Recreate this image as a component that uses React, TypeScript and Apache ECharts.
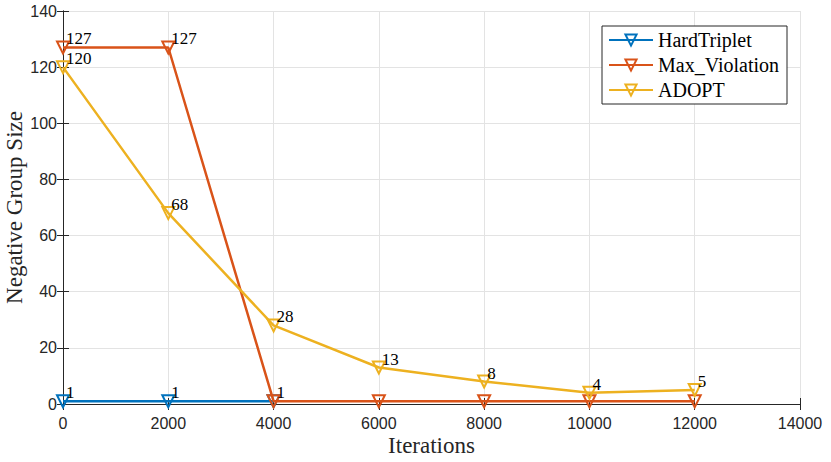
import React, { useEffect, useRef } from "react";
import * as echarts from "echarts";

const iterations = [0, 2000, 4000, 6000, 8000, 10000, 12000];
const hardTriplet = [1, 1, 1];
const maxViolation = [127, 127, 1, 1, 1, 1, 1];
const adopt = [120, 68, 28, 13, 8, 4, 5];
const maxViolationLabelCount = 2;
const xTicks = { min: 0, max: 14000, interval: 2000 };
const yTicks = { min: 0, max: 140, interval: 20 };

const SERIF = "Liberation Serif";
const SANS = "Liberation Sans";
const AXIS = "#262626";

function lineSeries(name: string, color: string, values: number[], z: number) {
  return {
    name,
    type: "line",
    z,
    data: values.map((v, i) => [iterations[i], v]),
    symbol: "triangle",
    symbolRotate: 180,
    symbolSize: 12,
    showAllSymbol: true,
    lineStyle: { color, width: 2.5 },
    itemStyle: { color: "rgba(255,255,255,0)", borderColor: color, borderWidth: 2 },
    emphasis: { disabled: true },
    label: { show: false },
  };
}

function labelSeries(name: string, values: number[], count: number) {
  return {
    name: name + "_labels",
    type: "custom",
    z: 10,
    silent: true,
    encode: { x: 0, y: 1 },
    data: values.slice(0, count).map((v, i) => [iterations[i], v]),
    renderItem: (params: any, api: any) => {
      const xv = api.value(0);
      const yv = api.value(1);
      const pt = api.coord([xv, yv]);
      return {
        type: "text",
        x: pt[0] + 3,
        y: pt[1],
        style: {
          text: String(yv),
          fontFamily: SERIF,
          fontSize: 17,
          fill: "#000",
          align: "left",
          verticalAlign: "bottom",
        },
      };
    },
  };
}

export default function App() {
  const ref = useRef<HTMLDivElement>(null);
  useEffect(() => {
    if (!ref.current) return;
    const chart = echarts.init(ref.current, null, { renderer: "svg" });
    const axisCommon = {
      type: "value",
      axisLine: { show: true, lineStyle: { color: AXIS, width: 1 } },
      axisTick: { show: true, inside: true, length: 6, lineStyle: { color: AXIS } },
      splitLine: { show: false },
    };
    chart.setOption({
      animation: false,
      backgroundColor: "#fff",
      grid: {
        left: 63,
        right: 31,
        top: 11,
        bottom: 58,
        containLabel: false,
        outerBoundsMode: "none",
      },
      legend: {
        orient: "vertical",
        left: 602,
        top: 26,
        padding: [4, 8, 4, 6],
        itemWidth: 44,
        itemHeight: 14,
        itemGap: 5,
        borderColor: AXIS,
        borderWidth: 1,
        backgroundColor: "#fff",
        textStyle: { fontFamily: SERIF, fontSize: 20, color: "#000" },
        data: ["HardTriplet", "Max_Violation", "ADOPT"],
      },
      xAxis: [
        {
          ...axisCommon,
          ...xTicks,
          position: "bottom",
          name: "Iterations",
          nameLocation: "middle",
          nameGap: 30,
          nameMoveOverlap: false,
          nameTextStyle: { fontFamily: SERIF, fontSize: 23, color: AXIS },
          axisLabel: {
            fontFamily: SANS,
            fontSize: 16,
            color: AXIS,
            margin: 11,
            formatter: (v: number) => String(v),
          },
          splitLine: { show: true, lineStyle: { color: "#e3e3e3", width: 1 } },
        },
        {
          ...axisCommon,
          ...xTicks,
          position: "top",
          axisLabel: { show: false },
        },
      ],
      yAxis: [
        {
          ...axisCommon,
          ...yTicks,
          position: "left",
          name: "Negative Group Size",
          nameLocation: "middle",
          nameGap: 37,
          nameMoveOverlap: false,
          nameTextStyle: { fontFamily: SERIF, fontSize: 23, color: AXIS },
          axisLabel: {
            fontFamily: SANS,
            fontSize: 16,
            color: AXIS,
            margin: 6,
            formatter: (v: number) => String(v),
          },
          splitLine: { show: true, lineStyle: { color: "#e3e3e3", width: 1 } },
        },
        {
          ...axisCommon,
          ...yTicks,
          position: "right",
          axisLabel: { show: false },
        },
      ],
      series: [
        lineSeries("HardTriplet", "#0072BD", hardTriplet, 2),
        lineSeries("Max_Violation", "#D95319", maxViolation, 3),
        lineSeries("ADOPT", "#EDB120", adopt, 4),
        labelSeries("HardTriplet", hardTriplet, hardTriplet.length),
        labelSeries("Max_Violation", maxViolation, maxViolationLabelCount),
        labelSeries("ADOPT", adopt, adopt.length),
      ],
    });
    return () => chart.dispose();
  }, []);
  return (
    <div
      ref={ref}
      style={{ position: "fixed", left: 0, top: 0, width: 831, height: 462 }}
    />
  );
}
